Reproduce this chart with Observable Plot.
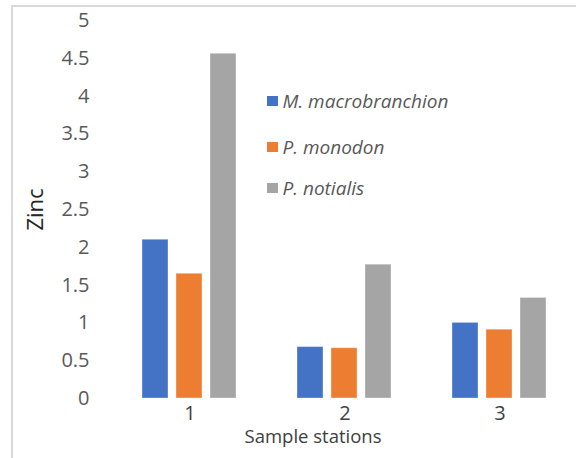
<!DOCTYPE html>
<html>
<head>
<meta charset="utf-8">
<script src="https://cdn.jsdelivr.net/npm/d3@7"></script>
<script src="https://cdn.jsdelivr.net/npm/@observablehq/plot@0.6"></script>
<style>
  html, body { margin: 0; padding: 0; background: #fff; }
  #chart { position: relative; width: 576px; height: 458px; overflow: hidden; font-family: "Open Sans", sans-serif; }
  #frame { position: absolute; left: 11px; top: 5px; width: 620px; height: 500px; border: 2px solid #d9d9d9; box-sizing: border-box; pointer-events: none; }
  #chart svg { position: absolute; left: 0; top: 0; overflow: visible; }
  g[aria-label="y-axis tick label"] text { fill: #595959; }
  g[aria-label="fx-axis tick label"] text { fill: #404040; }
  g[aria-label="y-axis label"] text { fill: #262626; font-size: 22px; }
  #xlabel { position: absolute; left: 313px; top: 436px; transform: translate(-50%, -50%); font-size: 18.5px; line-height: 1; color: #404040; white-space: nowrap; }
  #legend { position: absolute; left: 267px; top: 0; }
  .row { position: absolute; left: 0; display: flex; align-items: center; white-space: nowrap; transform: translateY(-50%); }
  .sw { width: 10.5px; height: 10.5px; margin-right: 5px; }
  .lab { font-style: italic; font-size: 19px; color: #595959; }
</style>
</head>
<body>
<div id="chart"></div>
<script>
// Zinc concentration by sample station for three shrimp species
const stations = ["1", "2", "3"];
const species = ["M. macrobranchion", "P. monodon", "P. notialis"];
const colors = ["#4472C4", "#ED7D31", "#A5A5A5"];
const macrobranchion = [2.10, 0.68, 1.00];
const monodon = [1.65, 0.665, 0.91];
const notialis = [4.56, 1.77, 1.33];
const yTicks = [0, 0.5, 1, 1.5, 2, 2.5, 3, 3.5, 4, 4.5, 5];

const seriesValues = [macrobranchion, monodon, notialis];
const rows = [];
stations.forEach((s, i) => {
  species.forEach((sp, j) => rows.push({station: s, species: sp, value: seriesValues[j][i]}));
});

const plot = Plot.plot({
  width: 576,
  height: 458,
  marginTop: 20,
  marginBottom: 60,
  marginLeft: 112,
  marginRight: -2,
  style: {fontFamily: "'Open Sans', sans-serif", background: "transparent"},
  fx: {domain: stations, paddingInner: 0.387, paddingOuter: 0.194, label: null, axis: null},
  x: {domain: species, paddingInner: 0.23, paddingOuter: 0, axis: null},
  y: {domain: [0, 5], axis: null},
  color: {domain: species, range: colors},
  marks: [
    Plot.barY(rows, {fx: "station", x: "species", y: "value", fill: "species", stroke: "#ffffff", strokeOpacity: 0.35, strokeWidth: 1}),
    // the y axis sits on the first facet, so its offsets include that facet's outer padding
    Plot.axisY({ticks: yTicks, tickSize: 0, tickPadding: 53, tickFormat: d => String(d), fontSize: 20,
      label: "Zinc", labelAnchor: "center", labelOffset: 115, labelArrow: "none"}),
    Plot.axisFx({anchor: "bottom", tickSize: 0, tickPadding: 7, label: null, fontSize: 20})
  ]
});

const chart = document.getElementById("chart");
chart.appendChild(plot);

const frame = document.createElement("div");
frame.id = "frame";
chart.appendChild(frame);

const xlabel = document.createElement("div");
xlabel.id = "xlabel";
xlabel.textContent = "Sample stations";
chart.appendChild(xlabel);

// Legend built from the color scale
const color = plot.scale("color");
const legend = document.createElement("div");
legend.id = "legend";
const rowY = [101, 147, 188];
color.domain.forEach((name, i) => {
  const r = document.createElement("div");
  r.className = "row";
  r.style.top = rowY[i] + "px";
  const sw = document.createElement("div");
  sw.className = "sw";
  sw.style.background = color.range[i];
  const lab = document.createElement("span");
  lab.className = "lab";
  lab.textContent = name;
  r.appendChild(sw);
  r.appendChild(lab);
  legend.appendChild(r);
});
chart.appendChild(legend);
</script>
</body>
</html>
